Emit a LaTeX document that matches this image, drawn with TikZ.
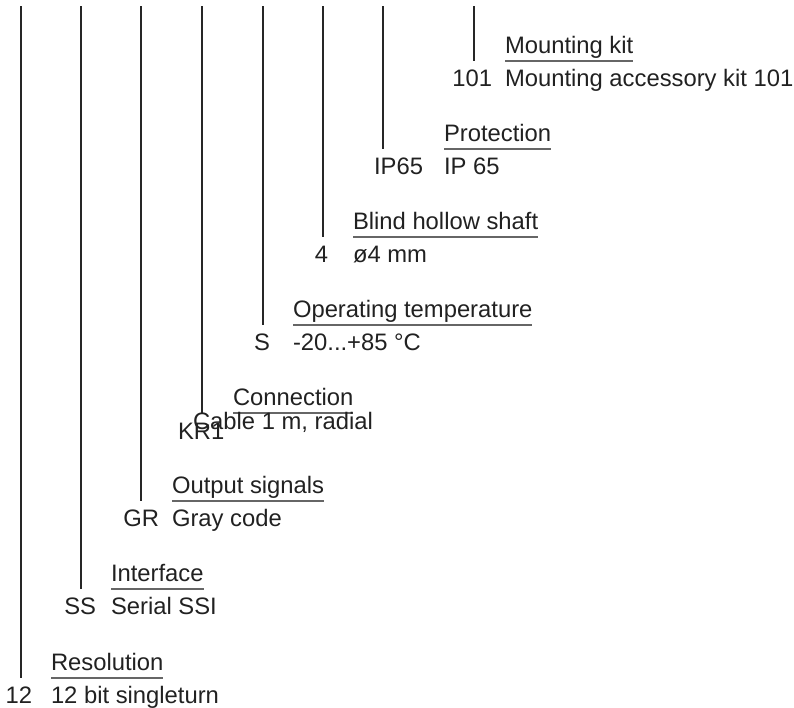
\documentclass[tikz,border=0pt]{standalone}
\usepackage{fontspec}
\setmainfont{Liberation Sans}
\usetikzlibrary{calc}
\begin{document}
\begin{tikzpicture}[x=1pt,y=-1pt,
  txt/.style={inner sep=0pt, outer sep=0pt, font=\fontsize{23.8}{28}\selectfont, text=black!87},
  ttl/.style={txt, anchor=base west},
  codetxt/.style={txt, anchor=base east},
  dsc/.style={txt, anchor=base west},
  lead/.style={draw=black!85, line width=1.3pt},
  uline/.style={draw=black!60, line width=1.5pt}]
\useasboundingbox (0,0) rectangle (794,707);
\newcommand{\grp}[9]{%
  % #1 id, #2 line x, #3 underline y, #4 title x, #5 title, #6 code x, #7 code, #8 desc x, #9 desc
  \coordinate (top#1) at (#2,6);
  \coordinate (end#1) at (#2,#3);
  \draw[lead] (top#1) -- (end#1);
  \node[ttl] (ttl#1) at (#4,#3-8) {#5};
  \draw[uline] ($(ttl#1.base west)+(0,8)$) -- ($(ttl#1.base east)+(0,8)$);
  \node[codetxt] (code#1) at (#6,#3+25) {#7};
  \node[dsc] (dsc#1) at (#8,#3+25) {#9};
}
\grp{a}{474}{61}{505}{Mounting kit}{492}{101}{505}{Mounting accessory kit 101}
\grp{b}{383}{149}{444}{Protection}{423}{IP65}{444}{IP 65}
\grp{c}{323}{237}{353}{Blind hollow shaft}{328}{4}{353}{ø4 mm}
\grp{d}{263}{325}{293}{Operating temperature}{270}{S}{293}{-20...+85 °C}
\grp{f}{141}{501}{172}{Output signals}{159}{GR}{172}{Gray code}
\grp{g}{81}{589}{111}{Interface}{96}{SS}{111}{Serial SSI}
\grp{h}{21}{678}{51}{Resolution}{32}{12}{51}{12 bit singleturn}
% Connection group (overlapping layout, as in the reference)
\coordinate (tope) at (202,6);
\coordinate (ende) at (202,413);
\draw[lead] (tope) -- (ende);
\node[ttl] (ttle) at (233,405) {Connection};
\draw[uline] ($(ttle.base west)+(0,8)$) -- ($(ttle.base east)+(0,8)$);
\node[dsc] (dsce) at (193,429) {Cable 1 m, radial};
\node[dsc] (codee) at (178,439) {KR1};
\end{tikzpicture}
\end{document}
